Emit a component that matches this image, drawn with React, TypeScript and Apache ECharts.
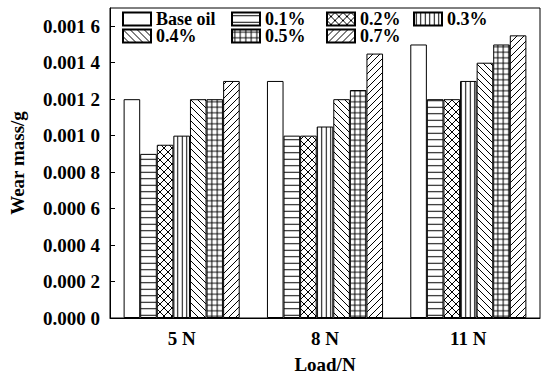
import React, { useEffect, useRef } from "react";
import * as echarts from "echarts";

const categories = ["5 N", "8 N", "11 N"];
const seriesNames = ["Base oil", "0.1%", "0.2%", "0.3%", "0.4%", "0.5%", "0.7%"];
const baseOil = [0.0012, 0.0013, 0.0015];
const c01 = [0.0009, 0.001, 0.0012];
const c02 = [0.00095, 0.001, 0.0012];
const c03 = [0.001, 0.00105, 0.0013];
const c04 = [0.0012, 0.0012, 0.0014];
const c05 = [0.0012, 0.00125, 0.0015];
const c07 = [0.0013, 0.00145, 0.00155];
const seriesValues = [baseOil, c01, c02, c03, c04, c05, c07];
const yTicks = [0, 0.0002, 0.0004, 0.0006, 0.0008, 0.001, 0.0012, 0.0014, 0.0016];

const FONT = "'Liberation Serif', 'Times New Roman', serif";

function svgPattern(s: number, body: string) {
  const svg = `<svg xmlns="http://www.w3.org/2000/svg" width="${s}" height="${s}" viewBox="0 0 ${s} ${s}"><rect width="${s}" height="${s}" fill="white"/>${body}</svg>`;
  return {
    image: "data:image/svg+xml;utf8," + encodeURIComponent(svg),
    imageWidth: s,
    imageHeight: s,
    repeat: "repeat",
  } as any;
}

function makePatterns() {
  const st = 'stroke="black" stroke-width="1" fill="none"';
  const back = (s: number) =>
    `<path d="M0,0 L${s},${s} M-1,${s - 1} L1,${s + 1} M${s - 1},-1 L${s + 1},1" ${st}/>`;
  const fwd = (s: number) =>
    `<path d="M0,${s} L${s},0 M-1,1 L1,-1 M${s - 1},${s + 1} L${s + 1},${s - 1}" ${st}/>`;
  return [
    "#ffffff",
    svgPattern(6.5, `<path d="M0,3.25 L6.5,3.25" ${st}/>`),
    svgPattern(8, back(8) + fwd(8)),
    svgPattern(4.5, `<path d="M2.25,0 L2.25,4.5" ${st}/>`),
    svgPattern(7, back(7)),
    svgPattern(5.5, `<path d="M0,2.75 L5.5,2.75 M2.75,0 L2.75,5.5" ${st}/>`),
    svgPattern(7, fwd(7)),
  ];
}

function fmt(v: number) {
  if (v > 0.00165) return "";
  const s = v.toFixed(4);
  return s.slice(0, 5) + " " + s.slice(5);
}

export default function App() {
  const ref = useRef<HTMLDivElement>(null);
  useEffect(() => {
    if (!ref.current) return;
    const chart = echarts.init(ref.current, null, { renderer: "svg" });
    const patterns = makePatterns();
    const legendPos = [
      [122, 10],
      [231, 10],
      [326, 10],
      [413, 10],
      [122, 27],
      [231, 27],
      [326, 27],
    ];
    const legends = seriesNames.map((n, i) => ({
      data: [n],
      left: legendPos[i][0],
      top: legendPos[i][1],
      padding: 0,
      itemWidth: 28,
      itemHeight: 13,
      itemGap: 0,
      selectedMode: false,
      icon: "rect",
      textStyle: {
        fontFamily: FONT,
        fontWeight: "bold",
        fontSize: 18,
        color: "#000",
        lineHeight: 17,
      },
    }));
    chart.setOption({
      animation: false,
      backgroundColor: "#fff",
      legend: legends,
      grid: {
        left: 110,
        right: 12,
        top: 8,
        bottom: 56,
        show: true,
        borderColor: "#000",
        borderWidth: 1,
      },
      xAxis: {
        type: "category",
        data: categories,
        name: "Load/N",
        nameLocation: "middle",
        nameGap: 37,
        nameTextStyle: { fontFamily: FONT, fontWeight: "bold", fontSize: 19, color: "#000" },
        axisLine: { lineStyle: { color: "#000", width: 1 } },
        axisTick: { show: false },
        axisLabel: { margin: 11, fontFamily: FONT, fontWeight: "bold", fontSize: 19, color: "#000" },
      },
      yAxis: {
        type: "value",
        min: yTicks[0],
        max: 0.0017,
        interval: 0.0002,
        name: "Wear mass/g",
        nameLocation: "middle",
        nameGap: 83,
        nameTextStyle: { fontFamily: FONT, fontWeight: "bold", fontSize: 19, color: "#000" },
        axisLine: { show: true, lineStyle: { color: "#000", width: 1 } },
        axisTick: { show: true, inside: true, length: 5, lineStyle: { color: "#000" } },
        splitLine: { show: false },
        axisLabel: {
          margin: 10,
          showMaxLabel: false,
          formatter: fmt,
          fontFamily: FONT,
          fontWeight: "bold",
          fontSize: 19,
          color: "#000",
        },
      },
      series: seriesNames.map((n, i) => ({
        name: n,
        type: "bar",
        data: seriesValues[i],
        barGap: "0%",
        barCategoryGap: "19%",
        itemStyle: { color: patterns[i], borderColor: "#000", borderWidth: 1 },
      })),
    });
    return () => chart.dispose();
  }, []);
  return (
    <div
      ref={ref}
      style={{ position: "absolute", left: 0, top: 0, width: 552, height: 379 }}
    />
  );
}
